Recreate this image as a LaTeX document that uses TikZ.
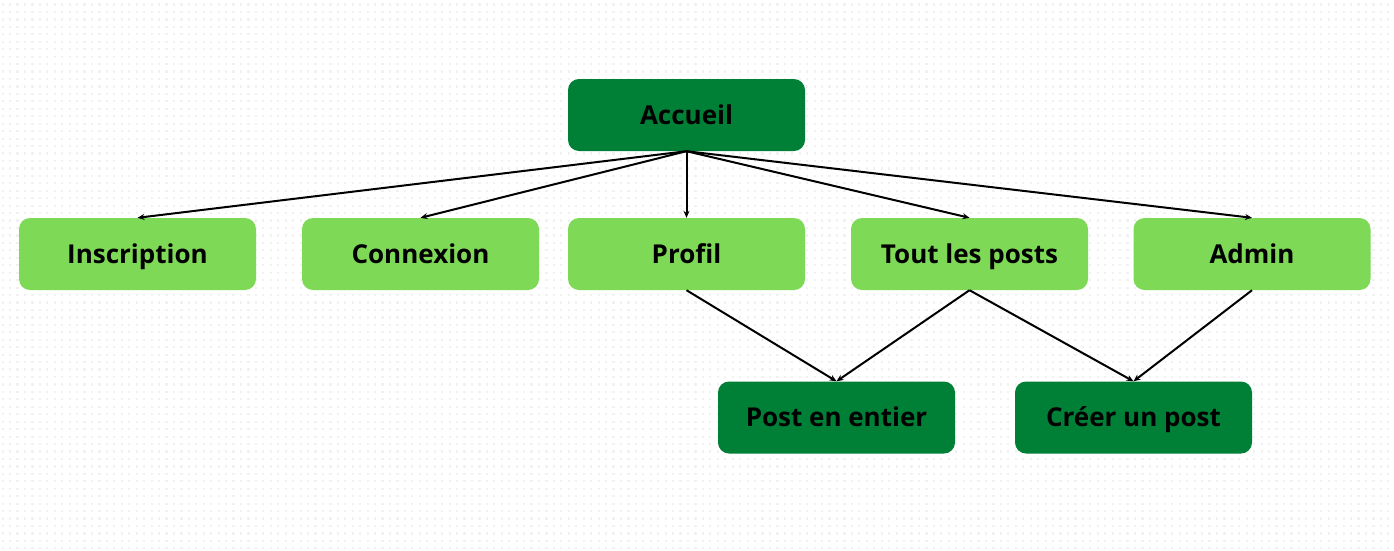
\documentclass[tikz,border=0pt]{standalone}
\usepackage{fontspec}
\setmainfont{Open Sans}
\usetikzlibrary{arrows.meta}
\definecolor{darkg}{HTML}{008037}
\definecolor{lightg}{HTML}{7ED957}
\definecolor{dotc}{HTML}{F1F1F1}
\tikzset{
  box/.style={rectangle, rounded corners=11pt, minimum width=237pt, minimum height=72pt, inner sep=0pt, font=\fontsize{26}{30}\selectfont\bfseries, text=black, text height=18.5pt, text depth=0pt},
  top/.style={box, fill=darkg},
  mid/.style={box, fill=lightg},
  link/.style={draw=black, line width=2pt, -{Stealth[length=7pt,width=6pt]}},
}
\begin{document}
\begin{tikzpicture}[x=1pt,y=-1pt]
\useasboundingbox[fill=white] (0,0) rectangle (1394,550);
\foreach \r in {0,...,73}{
  \draw[dotc, line width=2.2pt, dash pattern=on 2.2pt off 5.25pt] (1.5,{4.5+7.45*\r}) -- (1394,{4.5+7.45*\r});
}
\node[top] (acc) at (686.5,115) {Accueil};
\node[mid] (ins) at (137.5,254) {Inscription};
\node[mid] (con) at (420.5,254) {Connexion};
\node[mid] (pro) at (686.5,254) {Profil};
\node[mid] (tout) at (969.5,254) {Tout les posts};
\node[mid] (adm) at (1252,254) {Admin};
\node[top] (pee) at (836.5,417.5) {Post en entier};
\node[top] (cre) at (1133.5,417.5) {Créer un post};
\foreach \t in {ins,con,pro,tout,adm}{
  \draw[link] (acc.south) -- (\t.north);
}
\draw[link] (pro.south) -- (pee.north);
\draw[link] (tout.south) -- (pee.north);
\draw[link] (tout.south) -- (cre.north);
\draw[link] (adm.south) -- (cre.north);
\end{tikzpicture}
\end{document}
